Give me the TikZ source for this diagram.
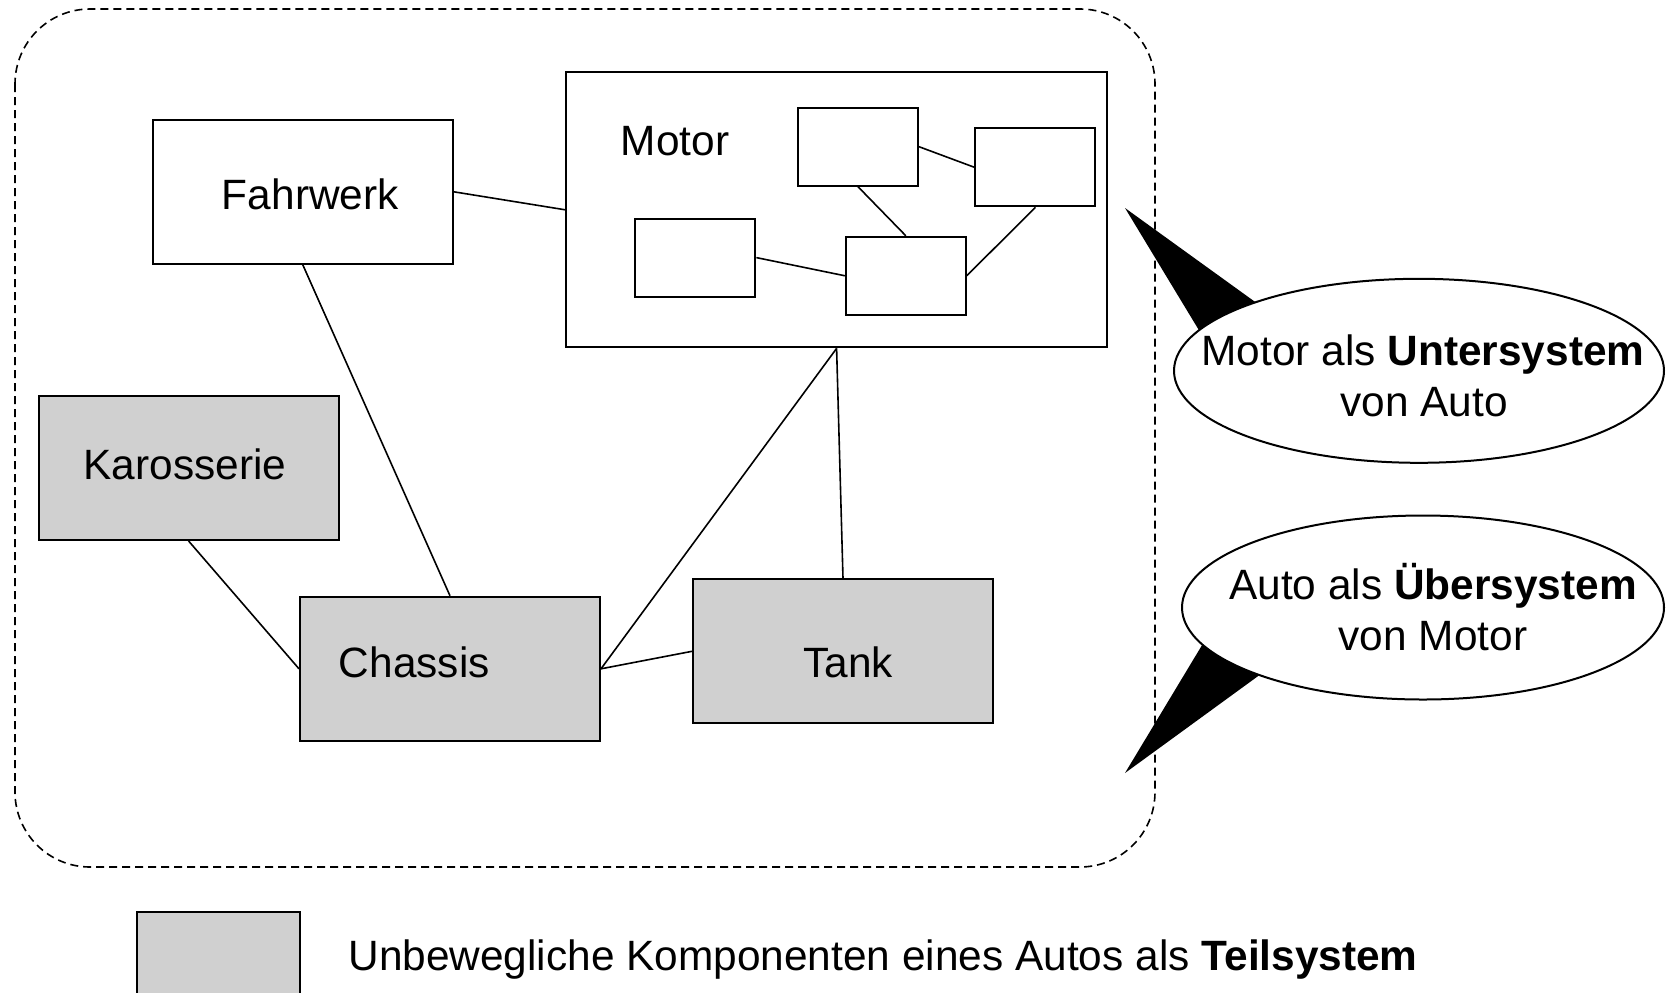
\documentclass[tikz,border=0pt]{standalone}
\usepackage{fontspec}
\setmainfont{Liberation Sans}
\usetikzlibrary{shapes.geometric}
\definecolor{boxgray}{RGB}{208,208,208}
\begin{document}
\begin{tikzpicture}[x=0.5pt,y=-0.5pt,
  box/.style={draw, line width=1pt, fill=white, minimum width=150pt, minimum height=72pt, inner sep=0pt},
  fixbox/.style={box, fill=boxgray},
  sub/.style={draw, line width=1pt, fill=white, minimum width=60pt, minimum height=39pt, inner sep=0pt},
  lbl/.style={anchor=base, inner sep=0pt, font=\fontsize{21.2}{25}\selectfont},
  conn/.style={line width=0.8pt},
  bubble/.style={ellipse, draw, line width=1pt, fill=white, inner sep=0pt},
  frame/.style={dash pattern=on 4pt off 2.5pt, line width=0.8pt, rounded corners=37.5pt}]
\clip (0,0) rectangle (1666,992);
\draw[frame] (15,9) rectangle (1155,867);

% boxes
\node[box] (fahrwerk) at (302.8,191.8) {};
\node[fixbox] (karosserie) at (188.6,468) {};
\node[fixbox] (chassis) at (450,668.8) {};
\node[fixbox] (tank) at (843,651.3) {};
\node[box, minimum width=270.35pt, minimum height=137.6pt] (motor) at (836.6,209.8) {};
\node[sub] (ma) at (858,146.7) {};
\node[sub] (mb) at (1035.4,167.3) {};
\node[sub] (mc) at (695.4,257.6) {};
\node[sub] (md) at (905.8,275.75) {};

% labels
\node[lbl] (tfahrwerk) at (310.3,209.6) {Fahrwerk};
\node[lbl] (tkarosserie) at (184.9,479.5) {Karosserie};
\node[lbl] (tchassis) at (414.3,677.3) {Chassis};
\node[lbl] (ttank) at (848,677.2) {Tank};
\node[lbl] (tmotor) at (675,155.6) {Motor};

% connectors
\draw[conn] (fahrwerk.east) -- (motor.west);
\draw[conn] (fahrwerk.south) -- (chassis.north);
\draw[conn] (karosserie.south) -- (chassis.west);
\draw[conn] (chassis.east) -- (tank.west);
\draw[conn] (chassis.east) -- (motor.south);
\draw[conn] (motor.south) -- (tank.north);
\draw[conn] (ma.east) -- (mb.west);
\draw[conn] (ma.south) -- (md.north);
\draw[conn] (mc.east) -- (md.west);
\draw[conn] (mb.south) -- (md.east);

% callout 1
\coordinate (tip1) at (1125,208);
\coordinate (b1a) at (1220,365);
\coordinate (b1b) at (1294,330);
\fill (tip1) -- (b1a) -- (b1b) -- cycle;
\node[bubble, minimum width=245pt, minimum height=92pt] (bubble1) at (1419,370.8) {};
\node[lbl] (u1) at (1423,365) {Motor als \textbf{Untersystem}};
\node[lbl] (u2) at (1424,416) {von Auto};

% callout 2
\coordinate (tip2) at (1125,773);
\coordinate (b2a) at (1225,607);
\coordinate (b2b) at (1298,647);
\fill (tip2) -- (b2a) -- (b2b) -- cycle;
\node[bubble, minimum width=241pt, minimum height=92pt] (bubble2) at (1423,607.5) {};
\node[lbl] (o1) at (1433,599.6) {Auto als \textbf{Übersystem}};
\node[lbl] (o2) at (1433,650.6) {von Motor};

% legend
\node[fixbox, minimum width=81.5pt, minimum height=47pt] (legendbox) at (218.8,959) {};
\node[lbl, anchor=base west] (legendtext) at (348,970) {Unbewegliche Komponenten eines Autos als \textbf{Teilsystem}};
\end{tikzpicture}
\end{document}
